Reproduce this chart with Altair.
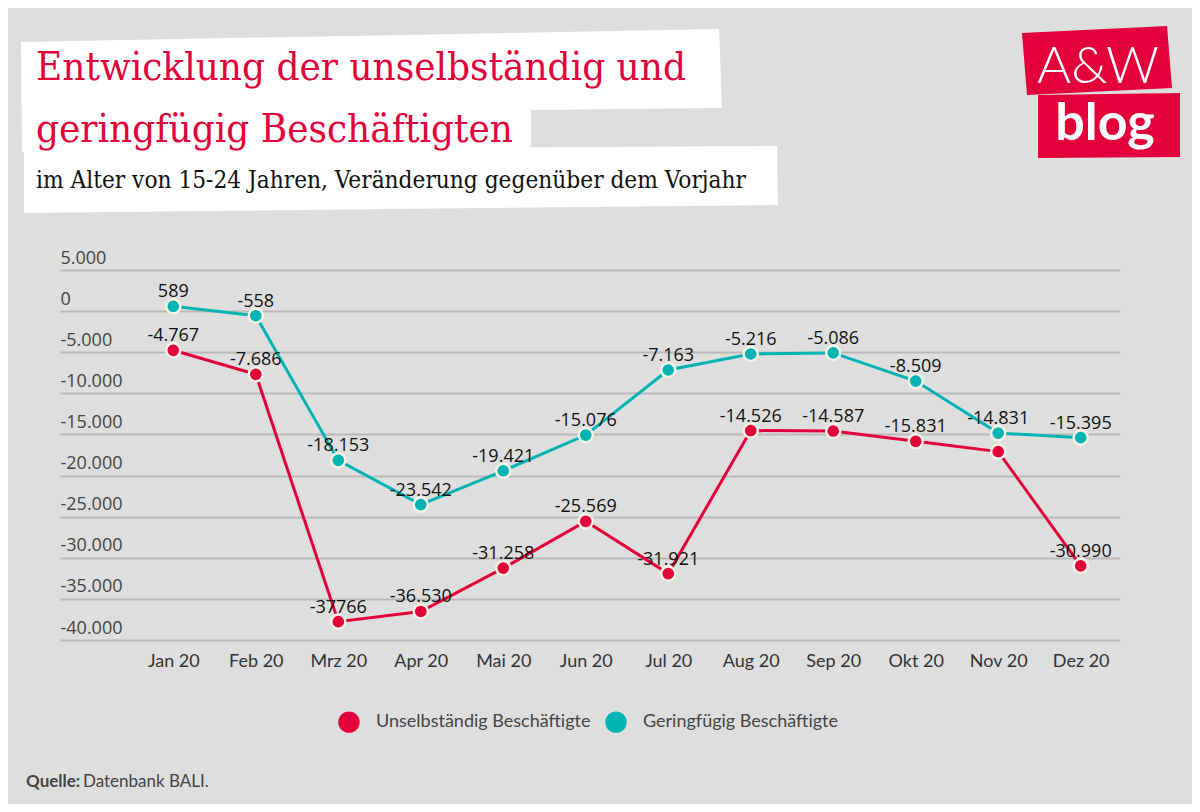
import altair as alt
import pandas as pd

# ---------------- data ----------------
months = ["Jan 20", "Feb 20", "Mrz 20", "Apr 20", "Mai 20", "Jun 20",
          "Jul 20", "Aug 20", "Sep 20", "Okt 20", "Nov 20", "Dez 20"]
series_names = ["Unselbständig Beschäftigte", "Geringfügig Beschäftigte"]
unselbst = [-4767, -7686, -37766, -36530, -31258, -25569,
            -31921, -14526, -14587, -15831, -17080, -30990]
unselbst_labels = ["-4.767", "-7.686", "-37766", "-36.530", "-31.258", "-25.569",
                   "-31.921", "-14.526", "-14.587", "-15.831", "", "-30.990"]
gering = [589, -558, -18153, -23542, -19421, -15076,
          -7163, -5216, -5086, -8509, -14831, -15395]
gering_labels = ["589", "-558", "-18.153", "-23.542", "-19.421", "-15.076",
                 "-7.163", "-5.216", "-5.086", "-8.509", "-14.831", "-15.395"]
y_ticks = [5000, 0, -5000, -10000, -15000, -20000, -25000, -30000, -35000, -40000]

title_1 = "Entwicklung der unselbständig und"
title_2 = "geringfügig Beschäftigten"
subtitle = "im Alter von 15-24 Jahren, Veränderung gegenüber dem Vorjahr"
source_bold = "Quelle:"
source_text = "Datenbank BALI."

RED = "#e3003a"
TEAL = "#00b4b4"
BG = "#dedede"

rows = []
for i, (m, v, l) in enumerate(zip(months, unselbst, unselbst_labels)):
    rows.append({"idx": i, "month": m, "series": series_names[0], "value": v, "label": l})
for i, (m, v, l) in enumerate(zip(months, gering, gering_labels)):
    rows.append({"idx": i, "month": m, "series": series_names[1], "value": v, "label": l})
df = pd.DataFrame(rows)

# plot origin on the page
OX, OY = 60, 270
W, H = 1060, 370
# first / last category centre inside the plot (pixels)
FIRST, LAST = 113.3, 1020.7
step = (LAST - FIRST) / (len(months) - 1)
x_domain = [-FIRST / step, (W - FIRST) / step]

serif = "'DejaVu Serif Condensed', 'DejaVu Serif', serif"


def poly(points):
    pts = [(x - OX, y - OY) for x, y in points]
    return "M" + " L".join(f"{x:.1f},{y:.1f}" for x, y in pts) + " Z"


one = alt.Data(values=[{"a": 1}])


def shape_layer(points, color):
    return alt.Chart(one).mark_point(
        shape=poly(points), size=4, filled=True, fill=color, opacity=1, strokeWidth=0
    ).encode(x=alt.value(0), y=alt.value(0))


def text_layer(txt, x, y, size, font, color, weight="normal", align="left"):
    return alt.Chart(one).mark_text(
        text=txt, font=font, fontSize=size, color=color, fontWeight=weight,
        align=align, baseline="alphabetic"
    ).encode(x=alt.value(x - OX), y=alt.value(y - OY))


decor = [
    shape_layer([(21, 42), (719, 29), (722, 108), (531, 110), (531, 152), (22, 152)], "white"),
    shape_layer([(24, 150), (777, 146), (778, 205), (24, 213)], "white"),
    shape_layer([(1022, 33), (1167, 26), (1172, 88), (1027, 95)], RED),
    shape_layer([(1038, 95), (1180, 93), (1180, 157), (1038, 158)], RED),
    text_layer(title_1, 36, 80, 40, serif, RED),
    text_layer(title_2, 36, 142, 40, serif, RED),
    text_layer(subtitle, 36, 188, 24.2, serif, "#111111"),
    text_layer("A&W", 1098, 83, 52, "Lato", "white", weight=300, align="center"),
    text_layer("blog", 1105, 140, 52, "Lato", "white", weight="bold", align="center"),
    text_layer(source_bold, 26, 787, 17, "Lato", "#444444", weight="bold"),
    text_layer(source_text, 83, 787, 17, "Lato", "#444444"),
]

month_array = "[" + ",".join(f"'{m}'" for m in months) + "]"

x_enc = alt.X(
    "idx:Q",
    scale=alt.Scale(domain=x_domain, nice=False, zero=False),
    axis=alt.Axis(title=None, domain=False, ticks=False, tickSize=0, grid=False,
                  values=list(range(len(months))),
                  labelExpr=f"{month_array}[datum.value]",
                  labelFont="Lato", labelFontSize=18, labelColor="#333333",
                  labelBaseline="alphabetic", labelPadding=26, labelAngle=0,
                  labelFlush=False, labelOverlap=False),
)
y_enc = alt.Y(
    "value:Q",
    scale=alt.Scale(domain=[-40000, 5000], nice=False, zero=False),
    axis=alt.Axis(title=None, values=y_ticks, domain=False, ticks=False, tickSize=0,
                  grid=True, gridColor="#b9b9b9", gridWidth=2,
                  labelExpr="replace(replace(format(datum.value, ','), ',', '.'), '\u2212', '-')",
                  labelFont="Open Sans", labelFontSize=18, labelColor="#444444",
                  labelAlign="left", labelBaseline="alphabetic", labelOffset=-7,
                  labelPadding=0, labelFlush=False, labelOverlap=False),
)

color_scale = alt.Scale(domain=series_names, range=[RED, TEAL])

base = alt.Chart(df)

line_layers = [
    base.transform_filter(alt.datum.series == name).mark_line(strokeWidth=3, color=col)
    .encode(x=x_enc, y=y_enc)
    for name, col in zip(series_names, [RED, TEAL])
]

points = base.mark_point(filled=True, size=200, opacity=1, stroke="#f4f2e4",
                         strokeWidth=2.5, shape="circle").encode(
    x=x_enc, y=y_enc,
    fill=alt.Fill("series:N", scale=color_scale,
                  legend=alt.Legend(title=None, orient="none", direction="horizontal",
                                    legendX=278, legendY=441,
                                    symbolType="circle", symbolSize=460,
                                    symbolStrokeWidth=0, symbolOpacity=1,
                                    labelFont="Lato", labelFontSize=18,
                                    labelColor="#444444", labelOffset=16,
                                    labelLimit=500, columnPadding=14)),
)

labels = base.mark_text(font="Open Sans", fontSize=18, color="#111111",
                        baseline="alphabetic", dy=-9).encode(
    x=x_enc, y=y_enc, text="label:N",
)

chart = alt.layer(*decor, *line_layers, points, labels).properties(
    width=W, height=H,
    autosize=alt.AutoSizeParams(type="none"),
    padding={"left": OX - 8, "top": OY - 8, "right": 1184 - (OX - 8) - W,
             "bottom": 796 - (OY - 8) - H},
    background=BG,
).configure_view(stroke=None)

chart.save("out.html", embed_options={"renderer": "svg", "actions": False})
